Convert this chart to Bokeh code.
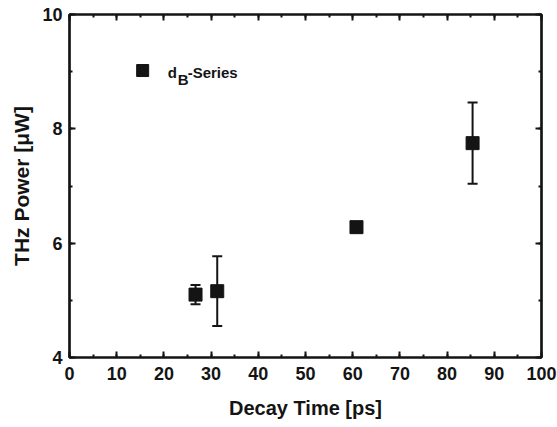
from bokeh.plotting import figure
from bokeh.models import (ColumnDataSource, Whisker, TeeHead, LinearAxis, Range1d,
                          FixedTicker, Label)
from bokeh.embed import file_html
from bokeh.resources import INLINE

# Data
decay_time = [26.7, 31.3, 60.8, 85.4]
thz_power = [5.10, 5.16, 6.28, 7.75]
power_err = [0.17, 0.61, 0.05, 0.71]

x_ticks = [0, 10, 20, 30, 40, 50, 60, 70, 80, 90, 100]
y_ticks = [4, 6, 8, 10]
legend_label_main = "d"
legend_label_sub = "B"
legend_label_rest = "-Series"

FONT = "Liberation Sans"
INK = "#141414"

src = ColumnDataSource(dict(
    x=decay_time, y=thz_power,
    lower=[v - e for v, e in zip(thz_power, power_err)],
    upper=[v + e for v, e in zip(thz_power, power_err)],
))

p = figure(width=557, height=427, output_backend="svg", toolbar_location=None,
           x_range=Range1d(0, 100), y_range=Range1d(4, 10),
           min_border_left=69, min_border_right=16, min_border_top=14,
           min_border_bottom=70)
p.background_fill_color = "white"
p.border_fill_color = "white"
p.outline_line_color = INK
p.outline_line_width = 2.2
p.xgrid.visible = False
p.ygrid.visible = False

def style_axis(ax, ticks, minor, show_labels=True):
    ax.ticker = FixedTicker(ticks=ticks, minor_ticks=minor)
    ax.axis_line_color = INK
    ax.axis_line_width = 2.2
    ax.major_tick_line_color = INK
    ax.minor_tick_line_color = INK
    ax.major_tick_line_width = 2
    ax.minor_tick_line_width = 2
    ax.major_tick_in = 6
    ax.major_tick_out = 0
    ax.minor_tick_in = 3
    ax.minor_tick_out = 0
    ax.major_label_text_font = FONT
    ax.major_label_text_font_style = "bold"
    ax.major_label_text_color = INK
    ax.axis_label_text_font = FONT
    ax.axis_label_text_font_style = "bold"
    ax.axis_label_text_color = INK
    if not show_labels:
        ax.major_label_overrides = {t: "" for t in ticks}
        ax.major_label_standoff = 0

x_minor = [v for v in range(0, 101, 5)]
y_minor = [4, 5, 6, 7, 8, 9, 10]

xa = p.xaxis[0]
style_axis(xa, x_ticks, x_minor)
xa.axis_label = "Decay Time [ps]"
xa.major_label_text_font_size = "18px"
xa.axis_label_text_font_size = "20px"
xa.major_label_standoff = 9
xa.axis_label_standoff = 14

ya = p.yaxis[0]
style_axis(ya, y_ticks, y_minor)
ya.axis_label = "THz Power [\u03bcW]"
ya.major_label_text_font_size = "18px"
ya.axis_label_text_font_size = "21px"
ya.major_label_standoff = 7
ya.axis_label_standoff = 6

top = LinearAxis()
style_axis(top, x_ticks, x_minor, show_labels=False)
p.add_layout(top, "above")
right = LinearAxis()
style_axis(right, y_ticks, y_minor, show_labels=False)
p.add_layout(right, "right")

# error bars
w = Whisker(source=src, base="x", upper="upper", lower="lower", dimension="height",
            line_color=INK, line_width=2)
w.upper_head = TeeHead(size=10, line_color=INK, line_width=2)
w.lower_head = TeeHead(size=10, line_color=INK, line_width=2)
p.add_layout(w)

p.scatter("x", "y", source=src, marker="square", size=13, fill_color=INK, line_color=INK)

# legend (marker + label with subscript)
LEG_X, LEG_Y = 15.5, 9.02
p.scatter([LEG_X], [LEG_Y], marker="square", size=12, fill_color=INK, line_color=INK)
common = dict(x=LEG_X, y=LEG_Y, text_font=FONT, text_font_style="bold",
              text_font_size="15px", text_color=INK, text_baseline="alphabetic")
p.add_layout(Label(x_offset=25, y_offset=-2, text=legend_label_main, **common))
p.add_layout(Label(x_offset=35, y_offset=-9, text=legend_label_sub, **common))
p.add_layout(Label(x_offset=45, y_offset=-2, text=legend_label_rest, **common))

open("out.html", "w").write(file_html(p, INLINE))
